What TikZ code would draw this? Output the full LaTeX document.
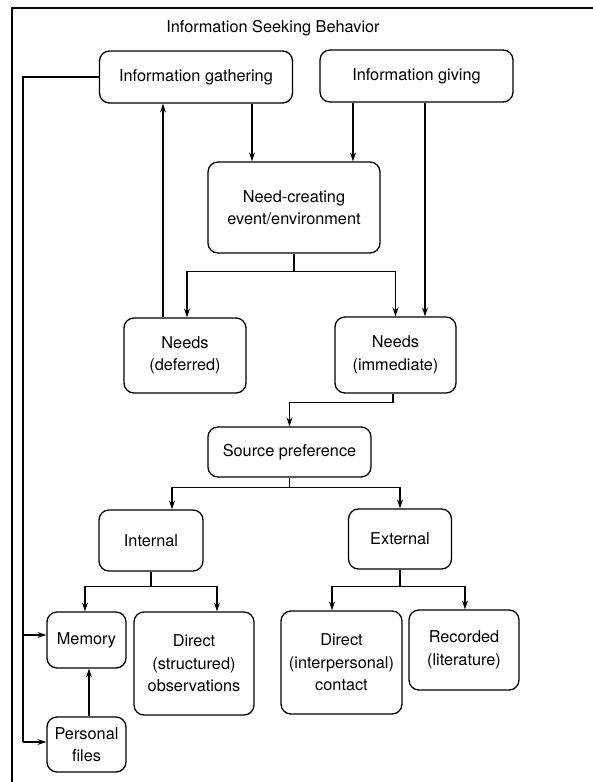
\documentclass[tikz,border=0pt]{standalone}
\usepackage{fontspec}
\setmainfont{TeX Gyre Heros}
\usetikzlibrary{arrows.meta}
\begin{document}
\begin{tikzpicture}[x=1pt,y=-1pt,
  line width=1.3pt,
  box/.style={draw, rounded corners=10pt, align=center, inner sep=0pt,
    font=\fontsize{16.3}{22.5}\selectfont},
  arr/.style={-{Stealth[length=9pt,width=6pt]}}]
\useasboundingbox (0,0) rectangle (593,782);
% frame
\draw (12,782) -- (12,8) -- (593,8);
\node[font=\fontsize{16.3}{22.5}\selectfont] (title) at (273,28) {Information Seeking Behavior};
% boxes
\node[box, minimum width=193pt, minimum height=52pt] (gath) at (196,77) {Information gathering};
\node[box, minimum width=193pt, minimum height=52pt] (giv) at (416.5,76) {Information giving};
\node[box, minimum width=172pt, minimum height=91pt] (need) at (294,207.5) {Need-creating\\event/environment};
\node[box, minimum width=122pt, minimum height=75pt] (def) at (185,355.5) {Needs\\(deferred)};
\node[box, minimum width=121pt, minimum height=76pt] (imm) at (395.5,355) {Needs\\(immediate)};
\node[box, minimum width=163pt, minimum height=50pt] (src) at (289.5,452) {Source preference};
\node[box, minimum width=104pt, minimum height=61pt] (int) at (151,540.5) {Internal};
\node[box, minimum width=103pt, minimum height=60pt] (ext) at (400,539) {External};
\node[box, minimum width=79pt, minimum height=56pt] (mem) at (86.5,640) {Memory};
\node[box, minimum width=120pt, minimum height=103pt] (dstr) at (194,663.5) {Direct\\(structured)\\observations};
\node[box, minimum width=121pt, minimum height=103pt] (dint) at (341.5,662.5) {Direct\\(interpersonal)\\contact};
\node[box, minimum width=110pt, minimum height=80pt] (rec) at (464,650) {Recorded\\(literature)};
\node[box, minimum width=79pt, minimum height=55pt] (pers) at (86.5,744.5) {Personal\\files};
% connectors
\draw[arr] ([xshift=56pt]gath.south) -- ([xshift=56pt]gath.south |- need.north);
\draw[arr] ([xshift=-63.5pt]giv.south) -- ([xshift=-63.5pt]giv.south |- need.north);
\draw[arr] ([xshift=8.5pt]giv.south) -- ([xshift=8.5pt]giv.south |- imm.north);
\draw[arr] (need.south) -- ++(0,18) -| ([xshift=2pt]def.north);
\draw[arr] (need.south) -- ++(0,18) -| (imm.north);
\draw[arr] ([xshift=-22pt]def.north) -- ([xshift=-22pt]def.north |- gath.south);
\draw[arr] ([xshift=-2.5pt]imm.south) -- ++(0,9) -| (src.north);
\draw[arr] (src.south) -- ++(0,10) -| ([xshift=21pt]int.north);
\draw[arr] (src.south) -- ++(0,10) -| (ext.north);
\draw[arr] (int.south) -- ++(0,15) -| ([xshift=-1.5pt]mem.north);
\draw[arr] (int.south) -- ++(0,15) -| ([xshift=23pt]dstr.north);
\draw[arr] (ext.south) -- ++(0,17) -| ([xshift=-9.5pt]dint.north);
\draw[arr] (ext.south) -- ++(0,17) -| ([xshift=1pt]rec.north);
\draw[arr] ([xshift=2.5pt]pers.north) -- ([xshift=2.5pt]pers.north |- mem.south);
% feedback from information gathering
\coordinate (lmem) at (23,635);
\coordinate (lpers) at (23,742);
\draw (gath.west) -| (lpers);
\draw[arr] (lmem) -- (lmem -| mem.west);
\draw[arr] (lpers) -- (lpers -| pers.west);
\end{tikzpicture}
\end{document}
